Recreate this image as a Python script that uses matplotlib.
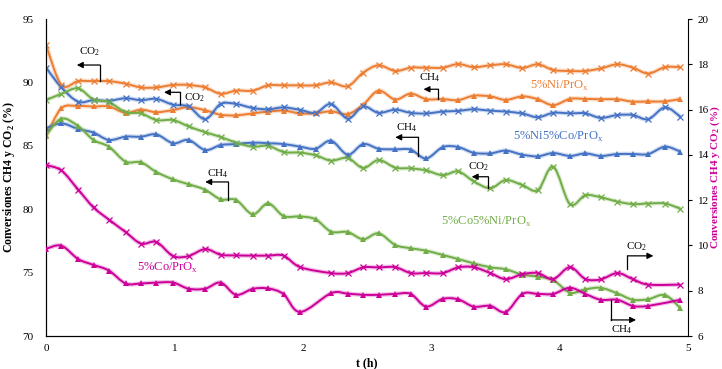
import numpy as np
import matplotlib
matplotlib.use('Agg')
from matplotlib import pyplot as plt
from matplotlib.path import Path
from matplotlib.patches import PathPatch
import matplotlib.patheffects as pe

plt.rcParams['font.family'] = ['Liberation Serif', 'DejaVu Serif']
plt.rcParams['mathtext.fontset'] = 'custom'
plt.rcParams['mathtext.rm'] = 'Liberation Serif'
plt.rcParams['mathtext.bf'] = 'Liberation Serif:bold'

# tiempos de muestreo (h)
t = [0, 0.12, 0.25, 0.37, 0.49, 0.62, 0.74, 0.86, 0.99, 1.11, 1.24, 1.36, 1.48, 1.61,
     1.73, 1.85, 1.98, 2.10, 2.22, 2.35, 2.47, 2.59, 2.72, 2.84, 2.96, 3.09, 3.21,
     3.33, 3.46, 3.58, 3.71, 3.83, 3.95, 4.08, 4.20, 4.32, 4.45, 4.57, 4.69, 4.82, 4.94]
# 5%Co/PrOx no tiene los puntos 2.10 y 4.82
t_co = [0, 0.12, 0.25, 0.37, 0.49, 0.62, 0.74, 0.86, 0.99, 1.11, 1.24, 1.36, 1.48, 1.61,
        1.73, 1.85, 1.98, 2.22, 2.35, 2.47, 2.59, 2.72, 2.84, 2.96, 3.09, 3.21,
        3.33, 3.46, 3.58, 3.71, 3.83, 3.95, 4.08, 4.20, 4.32, 4.45, 4.57, 4.69, 4.94]

ni_co2 = [92.95, 89.8, 90.1, 90.1, 90.1, 89.9, 89.6, 89.6, 89.8, 89.8, 89.6, 89.1, 89.35,
          89.35, 89.77, 89.77, 89.77, 89.77, 90.0, 89.7, 90.77, 91.35, 90.9, 91.16, 91.16,
          91.16, 91.45, 91.2, 91.35, 91.43, 91.14, 91.43, 90.98, 90.9, 90.9, 91.1, 91.43,
          91.16, 90.7, 91.2, 91.2]
ni_ch4 = [85.77, 87.96, 88.14, 88.1, 88.1, 87.6, 87.85, 87.65, 87.82, 88.05, 87.8, 87.45,
          87.4, 87.56, 87.7, 87.77, 87.56, 87.56, 87.72, 87.5, 88.24, 89.35, 88.65, 89.12,
          88.68, 88.68, 88.6, 88.95, 88.9, 88.62, 88.9, 88.67, 88.2, 88.7, 88.7, 88.67,
          88.67, 88.48, 88.5, 88.5, 88.7]
nico_co2 = [91.16, 89.6, 88.48, 88.6, 88.55, 88.75, 88.6, 88.7, 88.24, 88.1, 87.1, 88.3,
            88.3, 87.98, 87.88, 88.03, 87.83, 87.6, 88.3, 87.14, 88.1, 87.6, 87.85, 87.6,
            87.55, 87.7, 87.75, 87.88, 87.77, 87.7, 87.55, 87.25, 87.6, 87.56, 87.56, 87.2,
            87.43, 87.43, 87.1, 88.03, 87.3]
nico_ch4 = [86.38, 86.77, 86.33, 86.04, 85.46, 85.72, 85.72, 85.9, 85.2, 85.46, 84.67, 85.06,
            85.14, 85.25, 85.2, 85.14, 84.93, 84.77, 85.4, 84.3, 85.14, 84.77, 84.72, 84.7,
            84.0, 84.9, 84.9, 84.45, 84.4, 84.62, 84.3, 84.17, 84.43, 84.2, 84.4, 84.2,
            84.35, 84.35, 84.35, 84.93, 84.54]
coni_co2 = [88.6, 89.1, 89.53, 88.65, 88.45, 87.65, 87.56, 87.03, 87.03, 86.53, 86.07, 85.7,
            85.25, 84.93, 85.0, 84.51, 84.46, 84.25, 83.83, 84.04, 83.25, 83.88, 83.28, 83.22,
            83.06, 82.68, 82.98, 82.2, 81.65, 82.3, 81.9, 81.5, 83.35, 80.4, 81.1, 80.94,
            80.6, 80.4, 80.45, 80.45, 80.04]
coni_ch4 = [85.85, 87.14, 86.56, 85.46, 84.93, 83.75, 83.7, 82.93, 82.35, 81.97, 81.53, 80.78,
            80.73, 79.6, 80.46, 79.46, 79.43, 79.2, 78.23, 78.2, 77.63, 78.1, 77.18, 76.92,
            76.73, 76.39, 76.07, 75.73, 75.42, 75.26, 74.84, 74.68, 74.42, 73.42, 73.68, 73.8,
            73.36, 72.86, 72.9, 73.23, 72.2]
# eje derecho
co_co2 = [13.55, 13.31, 12.47, 11.68, 11.14, 10.59, 10.08, 10.15, 9.53, 9.53, 9.84, 9.59,
          9.56, 9.55, 9.55, 9.55, 9.04, 8.78, 8.78, 9.03, 9.03, 9.04, 8.78, 8.78, 8.78,
          9.03, 9.04, 8.78, 8.51, 8.73, 8.78, 8.51, 9.04, 8.52, 8.5, 8.78, 8.51, 8.27, 8.27]
co_ch4 = [9.85, 9.99, 9.4, 9.14, 8.89, 8.32, 8.32, 8.36, 8.36, 8.09, 8.09, 8.36, 7.82, 8.08,
          8.1, 7.85, 7.06, 7.89, 7.87, 7.82, 7.82, 7.86, 7.86, 7.3, 7.64, 7.62, 7.3, 7.33,
          7.06, 7.86, 7.86, 7.86, 8.13, 7.86, 7.6, 7.6, 7.33, 7.33, 7.6]

naranja = '#ED7D31'
azul = '#4472C4'
verde = '#70AD47'
rosa = '#CC0099'


def curva(ax, x, y, color, marker, ms):
    # linea suavizada tipo Excel (Bezier por Catmull-Rom)
    x = np.asarray(x, float)
    y = np.asarray(y, float)
    n = len(x)
    verts = [(x[0], y[0])]
    codes = [Path.MOVETO]
    for i in range(n - 1):
        x0, y0 = (x[i - 1], y[i - 1]) if i > 0 else (x[i], y[i])
        x3, y3 = (x[i + 2], y[i + 2]) if i + 2 < n else (x[i + 1], y[i + 1])
        c1 = (x[i] + (x[i + 1] - x0) / 6, y[i] + (y[i + 1] - y0) / 6)
        c2 = (x[i + 1] - (x3 - x[i]) / 6, y[i + 1] - (y3 - y[i]) / 6)
        verts += [c1, c2, (x[i + 1], y[i + 1])]
        codes += [Path.CURVE4] * 3
    p = PathPatch(Path(verts, codes), fill=False, edgecolor=color, lw=1.4, zorder=3,
                  path_effects=[pe.withStroke(linewidth=3.2, foreground=color, alpha=0.25)])
    ax.add_patch(p)
    if marker == 'x':
        ax.plot(x, y, ls='none', marker='x', ms=ms, mew=0.9, color=color, zorder=4)
    else:
        ax.plot(x, y, ls='none', marker='^', ms=ms, mew=0, color=color, zorder=4)


def flecha(ax, xc, yc, yk, xt, etiqueta, xe, ye):
    ax.plot([xc, xc], [yc, yk], color='k', lw=0.9, zorder=5)
    ax.annotate('', xy=(xt, yk), xytext=(xc, yk),
                arrowprops=dict(arrowstyle='-|>', color='k', lw=0.9, shrinkA=0, shrinkB=0,
                                mutation_scale=9), zorder=5)
    ax.text(xe, ye, etiqueta, fontsize=8, ha='center', va='center', zorder=5)


fig = plt.figure(figsize=(7.22, 3.69), dpi=100)
ax = fig.add_axes([0.0637, 0.0894, 0.8893, 0.8591])
ax2 = ax.twinx()

curva(ax, t, ni_co2, naranja, 'x', 4.5)
curva(ax, t, ni_ch4, naranja, '^', 4.5)
curva(ax, t, nico_co2, azul, 'x', 4.5)
curva(ax, t, nico_ch4, azul, '^', 4.5)
curva(ax, t, coni_co2, verde, 'x', 4.5)
curva(ax, t, coni_ch4, verde, '^', 4.5)
curva(ax2, t_co, co_co2, rosa, 'x', 4.5)
curva(ax2, t_co, co_ch4, rosa, '^', 4.5)

ax.set_xlim(0, 5)
ax.set_ylim(70, 95)
ax2.set_ylim(6, 20)
ax.set_xticks([0, 1, 2, 3, 4, 5])
ax.set_yticks([70, 75, 80, 85, 90, 95])
ax2.set_yticks([6, 8, 10, 12, 14, 16, 18, 20])

for a in (ax, ax2):
    a.spines['top'].set_visible(False)
ax.spines['right'].set_visible(False)
ax.tick_params(axis='both', length=0, labelsize=8, pad=9)
ax.tick_params(axis='x', pad=6)
ax2.tick_params(axis='y', length=3, labelsize=8, pad=4)

ax.set_xlabel('t (h)', fontsize=8.5, fontweight='bold', labelpad=3)
ax.set_ylabel('Conversiones CH4 y CO$_\\mathbf{2}$ (%)', fontsize=8.5, fontweight='bold', labelpad=4)
ax2.set_ylabel('Conversiones CH4 y CO$_\\mathbf{2}$ (%)', fontsize=8, fontweight='bold', color=rosa)
ax2.yaxis.set_label_coords(1.032, 0.5)

# etiquetas de las series
ax.text(4.0, 89.72, '5%Ni/PrO$_\\mathrm{x}$', color=naranja, fontsize=9, ha='center', va='center')
ax.text(3.99, 85.72, '5%Ni5%Co/PrO$_\\mathrm{x}$', color=azul, fontsize=9, ha='center', va='center')
ax.text(3.43, 79.0, '5%Co5%Ni/PrO$_\\mathrm{x}$', color=verde, fontsize=9, ha='center', va='center')
ax.text(0.95, 75.36, '5%Co/PrO$_\\mathrm{x}$', color=rosa, fontsize=9, ha='center', va='center')

# flechas CO2 / CH4
flecha(ax, 0.42, 90.1, 91.37, 0.24, 'CO$_2$', 0.335, 92.4)
flecha(ax, 1.044, 88.3, 89.22, 0.919, 'CO$_2$', 1.16, 88.8)
flecha(ax, 3.055, 88.67, 89.46, 2.94, 'CH$_4$', 2.99, 90.35)
flecha(ax, 2.9, 84.2, 85.67, 2.72, 'CH$_4$', 2.81, 86.4)
flecha(ax, 3.445, 81.65, 82.56, 3.315, 'CO$_2$', 3.37, 83.35)
flecha(ax, 1.42, 80.73, 82.15, 1.24, 'CH$_4$', 1.34, 82.78)
flecha(ax2, 4.527, 8.955, 9.54, 4.73, 'CO$_2$', 4.595, 9.94)
flecha(ax2, 4.40, 7.6, 6.71, 4.595, 'CH$_4$', 4.486, 6.27)

fig.savefig('out.png', dpi=100)
